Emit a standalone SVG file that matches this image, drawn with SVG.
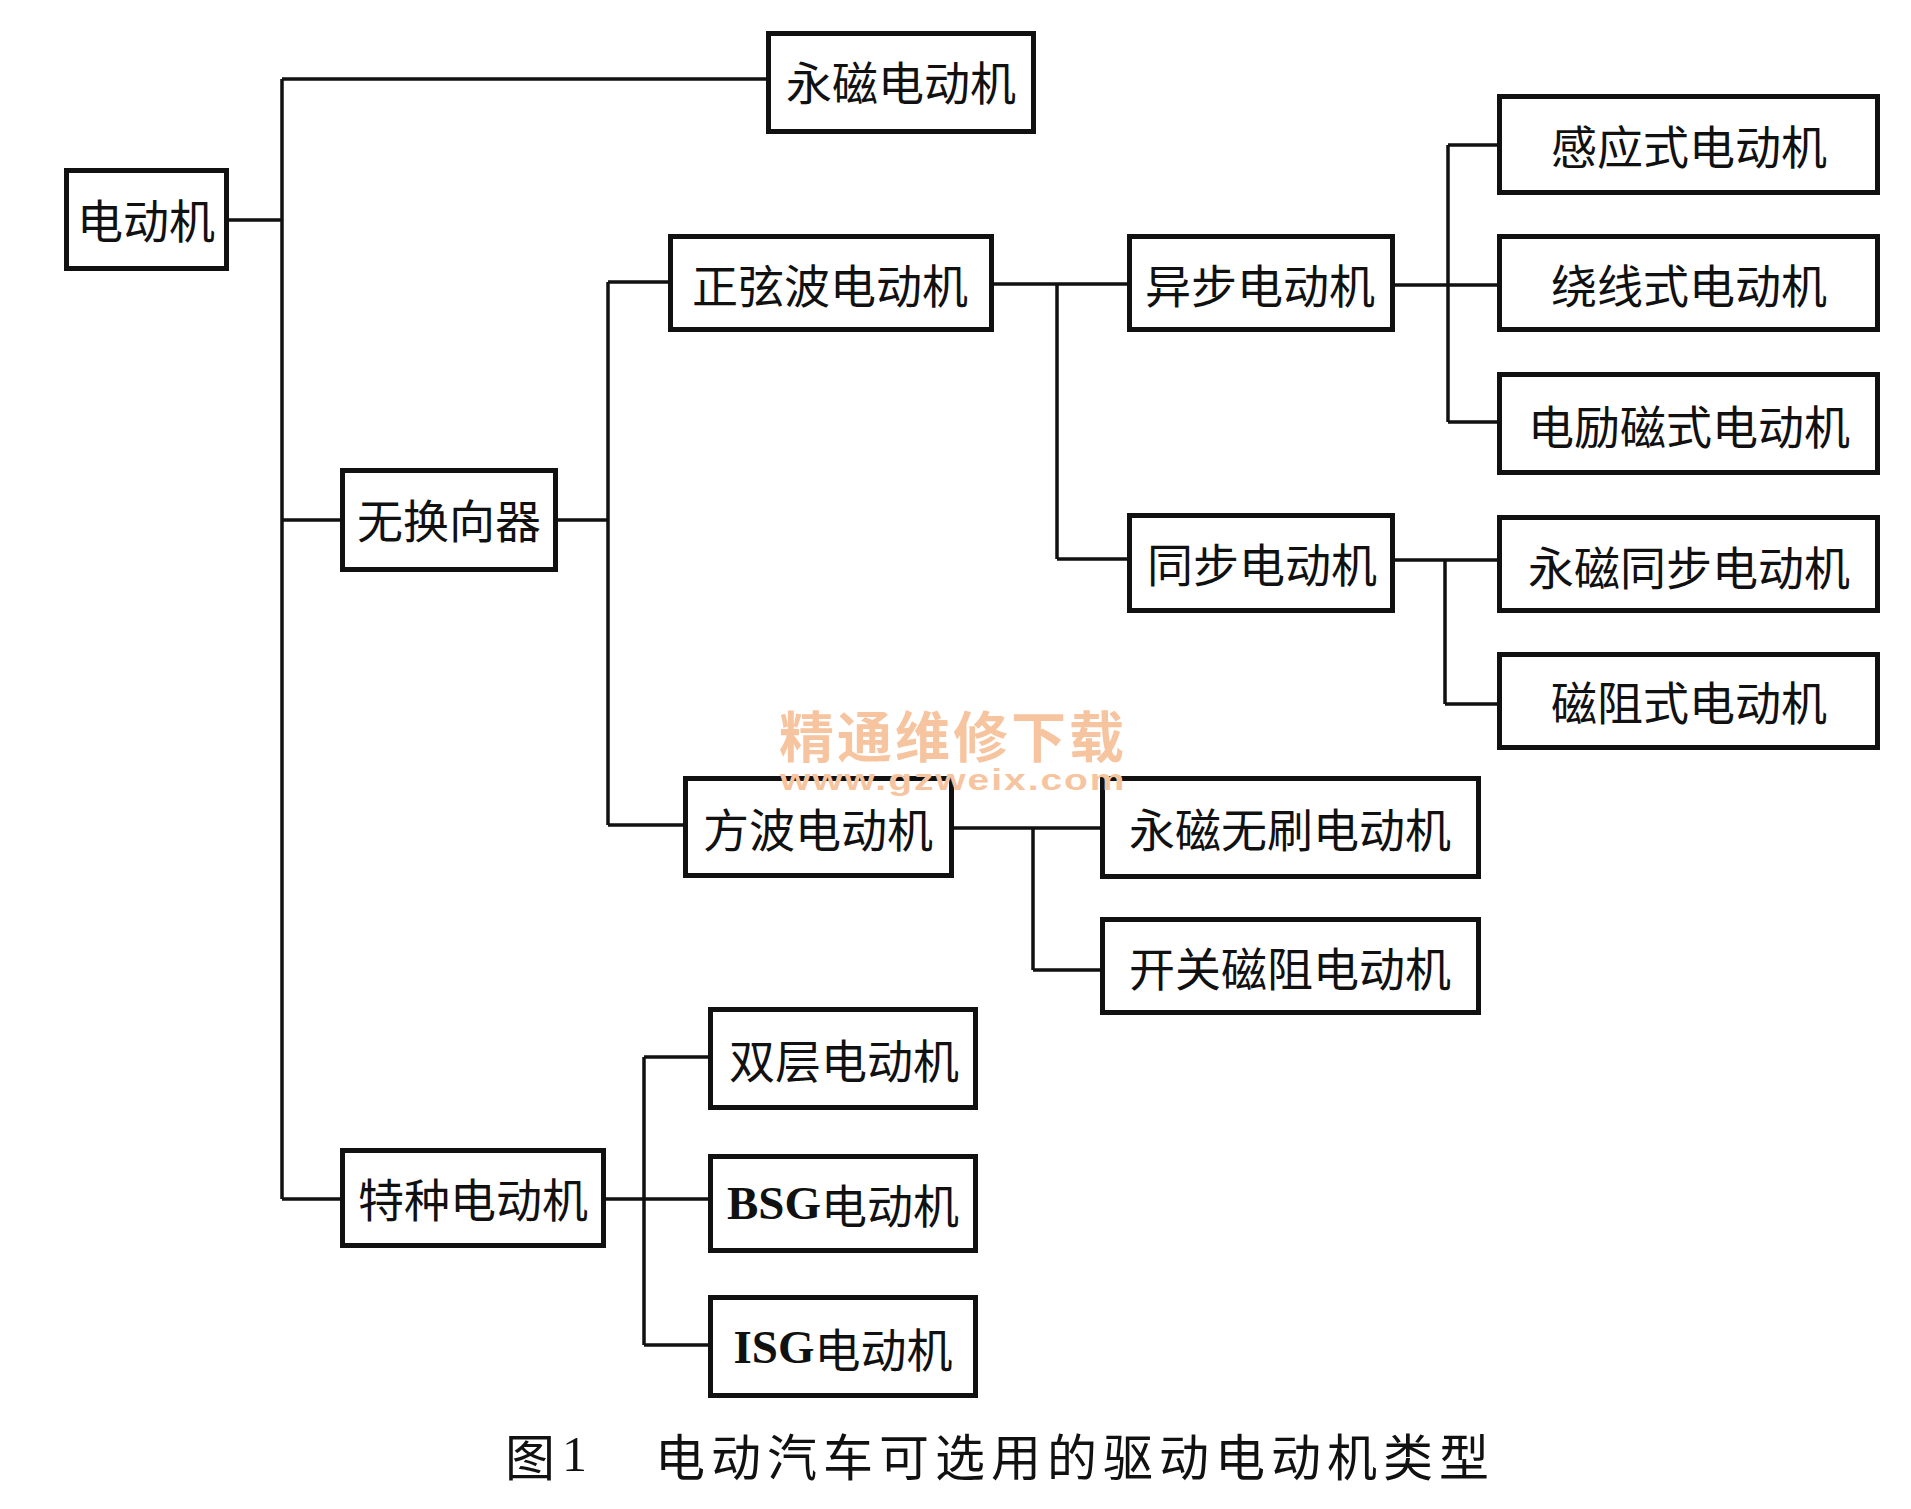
<svg xmlns="http://www.w3.org/2000/svg" width="1911" height="1509" viewBox="0 0 1911 1509">
<style>
.box{fill:#fff;stroke:#111;stroke-width:5}
.lbl{font-family:"Noto Sans CJK SC","Noto Sans",sans-serif;font-size:46px;fill:#111;text-anchor:middle;dominant-baseline:central}
.lat{font-family:"Liberation Serif",serif;font-weight:bold;font-size:47px}
.con path{fill:none;stroke:#111;stroke-width:3.5}
.cap{font-family:"Noto Sans CJK SC","Noto Sans",sans-serif;font-size:50px;fill:#111;dominant-baseline:central}
.wm{fill:#f7c4a0;font-weight:bold}
</style>
<rect width="1911" height="1509" fill="#fff"/>
<g class="con" id="connectors">
<path d="M229,220 H282 M282,79 V1199 M282,79 H766 M282,520 H340 M282,1199 H340"/>
<path d="M558,520 H608 M608,282 V825 M608,282 H668 M608,825 H683"/>
<path d="M994,284 H1127 M1057,284 V559 M1057,559 H1127"/>
<path d="M1395,285 H1497 M1448,145 V422 M1448,145 H1497 M1448,422 H1497"/>
<path d="M1395,560 H1497 M1445,560 V704 M1445,704 H1497"/>
<path d="M954,828 H1100 M1033,828 V970 M1033,970 H1100"/>
<path d="M606,1199 H708 M644,1057 V1345 M644,1057 H708 M644,1345 H708"/>
</g>
<g id="n1"><rect class="box" x="66.5" y="170.5" width="160" height="98"/><text class="lbl" x="146" y="218">电动机</text></g>
<g id="n2"><rect class="box" x="768.5" y="33.5" width="265" height="98"/><text class="lbl" x="901" y="80">永磁电动机</text></g>
<g id="n3"><rect class="box" x="342.5" y="470.5" width="213" height="99"/><text class="lbl" x="449" y="518">无换向器</text></g>
<g id="n4"><rect class="box" x="342.5" y="1150.5" width="261" height="95"/><text class="lbl" x="473" y="1197">特种电动机</text></g>
<g id="n5"><rect class="box" x="670.5" y="236.5" width="321" height="93"/><text class="lbl" x="830" y="283">正弦波电动机</text></g>
<g id="n6"><rect class="box" x="685.5" y="778.5" width="266" height="97"/><text class="lbl" x="818" y="827">方波电动机</text></g>
<g id="n7"><rect class="box" x="1129.5" y="236.5" width="263" height="93"/><text class="lbl" x="1260" y="283">异步电动机</text></g>
<g id="n8"><rect class="box" x="1129.5" y="515.5" width="263" height="95"/><text class="lbl" x="1262" y="562">同步电动机</text></g>
<g id="n9"><rect class="box" x="1499.5" y="96.5" width="378" height="96"/><text class="lbl" x="1689" y="144">感应式电动机</text></g>
<g id="n10"><rect class="box" x="1499.5" y="236.5" width="378" height="93"/><text class="lbl" x="1689" y="283">绕线式电动机</text></g>
<g id="n11"><rect class="box" x="1499.5" y="374.5" width="378" height="98"/><text class="lbl" x="1689" y="424">电励磁式电动机</text></g>
<g id="n12"><rect class="box" x="1499.5" y="517.5" width="378" height="93"/><text class="lbl" x="1689" y="565">永磁同步电动机</text></g>
<g id="n13"><rect class="box" x="1499.5" y="654.5" width="378" height="93"/><text class="lbl" x="1689" y="700">磁阻式电动机</text></g>
<g id="n14"><rect class="box" x="1102.5" y="778.5" width="376" height="98"/><text class="lbl" x="1290" y="827">永磁无刷电动机</text></g>
<g id="n15"><rect class="box" x="1102.5" y="919.5" width="376" height="93"/><text class="lbl" x="1290" y="966">开关磁阻电动机</text></g>
<g id="n16"><rect class="box" x="710.5" y="1009.5" width="265" height="98"/><text class="lbl" x="844" y="1058">双层电动机</text></g>
<g id="n17"><rect class="box" x="710.5" y="1156.5" width="265" height="94"/><text class="lbl" x="843" y="1203"><tspan class="lat">BSG</tspan>电动机</text></g>
<g id="n18"><rect class="box" x="710.5" y="1297.5" width="265" height="98"/><text class="lbl" x="843" y="1347"><tspan class="lat">ISG</tspan>电动机</text></g>
<g id="watermark">
<text class="wm" x="779" y="757" font-family="'Noto Sans CJK SC',sans-serif" font-size="55" textLength="345" lengthAdjust="spacing">精通维修下载</text>
<text class="wm" transform="translate(780,790) scale(1.3,1)" x="0" y="0" font-family="'Liberation Sans',sans-serif" font-size="30" textLength="265" lengthAdjust="spacing">www.gzweix.com</text>
</g>
<g id="caption">
<text class="cap" y="1454"><tspan x="505">图</tspan><tspan x="562" font-family="'Liberation Serif',serif">1</tspan><tspan x="655" letter-spacing="6">电动汽车可选用的驱动电动机类型</tspan></text>
</g>
</svg>
